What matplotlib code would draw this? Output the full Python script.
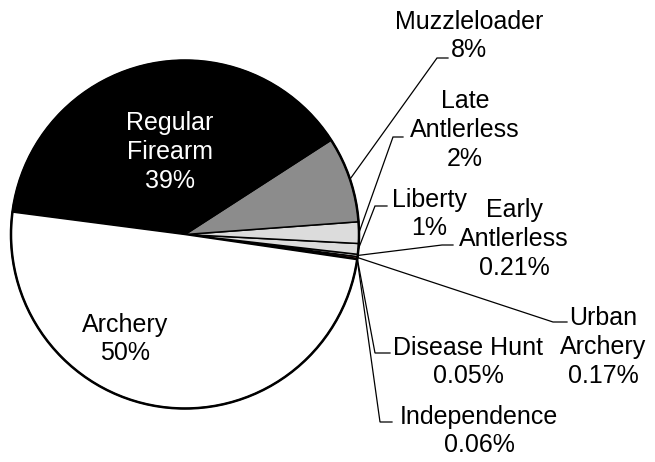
import matplotlib
matplotlib.use("Agg")
import matplotlib.pyplot as plt
import numpy as np

# Data (counterclockwise order starting just below 3 o'clock)
labels = ["Independence", "Disease Hunt", "Urban\nArchery", "Early\nAntlerless",
          "Liberty", "Late\nAntlerless", "Muzzleloader", "Regular\nFirearm", "Archery"]
values = [0.06, 0.05, 0.17, 0.21, 1, 2, 8, 39, 50]
pct_text = ["0.06%", "0.05%", "0.17%", "0.21%", "1%", "2%", "8%", "39%", "50%"]
colors = ["#1f3f99", "#000000", "#f08070", "#ffffff", "#dcdcdc", "#dcdcdc",
          "#8c8c8c", "#000000", "#ffffff"]

W, H = 655, 462
fig = plt.figure(figsize=(W / 100, H / 100), dpi=100)
ax = fig.add_axes([0, 0, 1, 1])
ax.set_xlim(0, W)
ax.set_ylim(0, H)
ax.set_aspect("equal")
ax.axis("off")

def P(x, y):
    return (x, H - y)

cx, cy = P(185, 234.5)
R = 174
start = -8.3

wedges, _ = ax.pie(values, colors=colors, startangle=start, counterclock=True,
                   center=(cx, cy), radius=R, frame=True,
                   wedgeprops=dict(edgecolor="black", linewidth=1.1))
ax.set_xlim(0, W)
ax.set_ylim(0, H)
ax.axis("off")
circ = plt.Circle((cx, cy), R, fill=False, edgecolor="black", linewidth=1.8, zorder=5)
ax.add_patch(circ)

font = dict(family=["Liberation Sans", "DejaVu Sans"], fontsize=18)

# label block centers (pixels) and leader elbows / ends
text_pos = [(479, 431), (468, 362), (603, 347), (514, 239), (429, 214),
            (465, 130), (469, 36), (170, 152), (125, 339)]
leaders = [((380, 422), (392, 422)), ((375, 353), (390, 353)),
           ((553, 322), (567, 322)), ((442, 245), (453, 245)),
           ((375, 206), (387, 206)), ((393, 137), (403, 137)),
           ((437, 58), (448, 58)), None, None]

for i, w in enumerate(wedges):
    tx, ty = P(*text_pos[i])
    col = "white" if colors[i] == "#000000" and i == 7 else "black"
    ax.text(tx, ty, labels[i] + "\n" + pct_text[i], ha="center", va="center",
            multialignment="center", color=col, linespacing=1.25, zorder=6, **font)
    if leaders[i] is not None:
        mid = np.deg2rad((w.theta1 + w.theta2) / 2)
        sx, sy = cx + R * np.cos(mid), cy + R * np.sin(mid)
        (ex, ey), (fx, fy) = leaders[i]
        ex, ey = P(ex, ey)
        fx, fy = P(fx, fy)
        ax.plot([sx, ex, fx], [sy, ey, fy], color="black", linewidth=0.9, zorder=6,
                solid_joinstyle="miter")

fig.savefig("out.png", dpi=100)
